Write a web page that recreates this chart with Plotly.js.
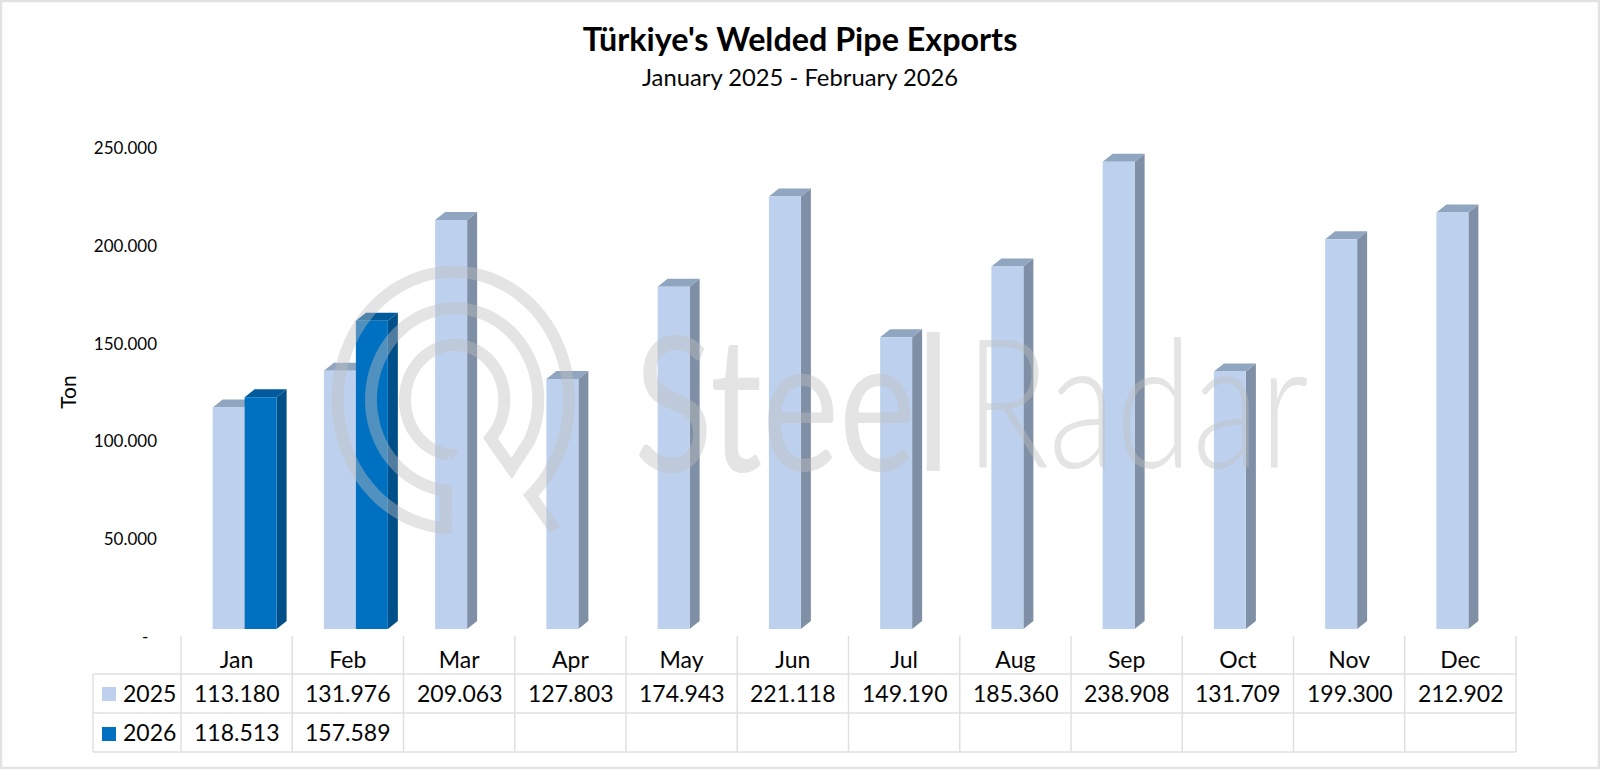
<!DOCTYPE html>
<html>
<head>
<meta charset="utf-8">
<script src="https://cdn.plot.ly/plotly-3.0.1.min.js"></script>
<style>html,body{margin:0;padding:0;background:#fff}</style>
</head>
<body>
<div id="chart" style="width:1600px;height:769px"></div>
<script>
const months = ["Jan","Feb","Mar","Apr","May","Jun","Jul","Aug","Sep","Oct","Nov","Dec"];
const values2025 = [113180,131976,209063,127803,174943,221118,149190,185360,238908,131709,199300,212902];
const values2026 = [118513,157589,null,null,null,null,null,null,null,null,null,null];
const yTickValues = [0,50000,100000,150000,200000,250000];
const yTickLabels = ["-\u00a0\u00a0","50.000","100.000","150.000","200.000","250.000"];
const seriesNames = ["2025","2026"];

const W = 1600, H = 769;
const px = x => x / W;
const py = y => 1 - y / H;
const FONT = "Lato, Carlito, Calibri, sans-serif";
const GRID = "#e0e0e0";
const INK = "#050505";
const fmt = v => v === null ? "" : String(v).replace(/\B(?=(\d{3})+$)/g, ".");

const pxPerUnit = 1.956 / 1000;
const barW = 0.2875, depthX = 10, depthY = 8, barPx = 32;
const styles = [
  {front:"#BDD1EE", side:"#7F8FA6", top:"#8FA5C0", off:-barW},
  {front:"#0070C0", side:"#004F88", top:"#005A9C", off:0}
];

const shapes = [];
[values2025, values2026].forEach((vals, s) => {
  const st = styles[s];
  vals.forEach((v, i) => {
    if (v === null) return;
    const left = i + st.off, right = left + barW;
    const common = {type:"path", xref:"x", yref:"y", xsizemode:"pixel", ysizemode:"pixel",
                    layer:"below", line:{width:0}};
    const h = v * pxPerUnit;
    shapes.push(Object.assign({}, common, {xanchor:right, yanchor:v, fillcolor:st.side,
      path:`M 0 0 L ${depthX} ${depthY} L ${depthX} ${depthY - h} L 0 ${-h} Z`}));
    shapes.push(Object.assign({}, common, {xanchor:left, yanchor:v, fillcolor:st.top,
      path:`M 0 0 L ${depthX} ${depthY} L ${barPx+depthX} ${depthY} L ${barPx} 0 Z`}));
  });
});

// Data table rules
const colX = i => 181 + i * 111.25;
const hline = (x0, x1, y) => ({type:"line", xref:"paper", yref:"paper", x0:px(x0), x1:px(x1), y0:py(y), y1:py(y), line:{color:GRID, width:1.5}, layer:"below"});
const vline = (x, y0, y1) => ({type:"line", xref:"paper", yref:"paper", x0:px(x), x1:px(x), y0:py(y0), y1:py(y1), line:{color:GRID, width:1.5}, layer:"below"});
[674,713,752].forEach(y => shapes.push(hline(93,1516,y)));
for (let i = 0; i <= 12; i++) shapes.push(vline(colX(i),636,752));
shapes.push(vline(93,674,752));
// Legend keys
[[687,701,styles[0].front],[727,741,styles[1].front]].forEach(k => shapes.push({type:"rect", xref:"paper", yref:"paper",
  x0:px(102), x1:px(116), y0:py(k[0]), y1:py(k[1]), fillcolor:k[2], line:{width:0}, layer:"below"}));
// Picture border
shapes.push({type:"rect", xref:"paper", yref:"paper", x0:px(1), x1:px(1599), y0:py(1), y1:py(768), line:{color:"#e2e2e2", width:2.5}, layer:"below"});

// Watermark logo: one continuous stroke through three stretched rings
const WM = "rgba(190,190,190,0.42)";
const zx = z => 325 + z/3, zy = z => 255 + z/3;
const pt = (x,y) => `${px(zx(x)).toFixed(5)} ${py(zy(y)).toFixed(5)}`;
function arc(cx,cy,rx,ry,a0,a1){
  const out = [], n = Math.ceil(Math.abs(a1-a0)/3);
  for (let k = 0; k <= n; k++){
    const t = (a0 + (a1-a0)*k/n)*Math.PI/180;
    out.push("L " + pt(cx+rx*Math.cos(t), cy+ry*Math.sin(t)));
  }
  return out.join(" ");
}
const logoPath = [
  `M ${pt(370,600)}`, arc(389,435,149,165,97,404), `L ${pt(560,640)}`,
  arc(389,434,251,274,387,96), `L ${pt(362,819)}`,
  arc(385,435,347,385,94,408), `L ${pt(690,825)}`
].join(" ");
shapes.push({type:"path", xref:"paper", yref:"paper", path:logoPath, line:{color:WM, width:12}, layer:"above"});

const annotations = [];
const cell = (text, i, y) => annotations.push({text, x:i, xref:"x", xshift:-8, y:py(y), yref:"paper",
  xanchor:"center", yanchor:"middle", showarrow:false, font:{family:FONT, size:23, color:INK}});
values2025.forEach((v,i) => cell(fmt(v), i, 693));
values2026.forEach((v,i) => { if (v !== null) cell(fmt(v), i, 732); });
seriesNames.forEach((n,s) => annotations.push({text:n, x:px(121), xref:"paper", y:py(693+39*s), yref:"paper",
  xanchor:"left", yanchor:"middle", showarrow:false, font:{family:FONT, size:23, color:INK}}));
// Watermark words
annotations.push({text:"Steel", x:px(632), xref:"paper", y:py(398), yref:"paper", xanchor:"left", yanchor:"middle",
  showarrow:false, font:{family:FONT, size:146, color:WM, weight:400}});
annotations.push({text:"Radar", x:px(963), xref:"paper", y:py(398), yref:"paper", xanchor:"left", yanchor:"middle",
  showarrow:false, font:{family:FONT, size:139, color:WM, weight:300}});
annotations.push({text:"January 2025 - February 2026", x:0.5, xref:"paper", y:py(77), yref:"paper", xanchor:"center", yanchor:"middle",
  showarrow:false, font:{family:FONT, size:23.8, color:INK}});

const traces = [values2025, values2026].map((vals,s) => ({
  type:"bar", name:seriesNames[s], x:months, y:vals,
  marker:{color:styles[s].front, line:{width:0}}, hoverinfo:"x+y"
}));

const layout = {
  width:W, height:H, margin:{l:0,r:0,t:0,b:0}, autosize:false,
  paper_bgcolor:"#fff", plot_bgcolor:"rgba(0,0,0,0)", showlegend:false,
  barmode:"group", bargap:0.425, bargroupgap:0,
  font:{family:FONT, color:INK},
  title:{text:"<b>Türkiye's Welded Pipe Exports</b>", x:0.5, xanchor:"center", xref:"paper", y:1-40/H, yanchor:"middle",
         font:{family:FONT, size:32.3, color:"#000"}},
  xaxis:{type:"category", categoryorder:"array", categoryarray:months, domain:[px(189),px(1524)], range:[-0.5,11.5],
         tickmode:"array", tickvals:months, ticktext:months, ticks:"", showline:false, showgrid:false, zeroline:false,
         ticklabelshift:-8, ticklabelstandoff:0, tickfont:{family:FONT, size:23, color:INK}, automargin:false, fixedrange:true},
  yaxis:{domain:[py(644),py(140)], range:[-15/pxPerUnit,250000], tickmode:"array", tickvals:yTickValues, ticktext:yTickLabels,
         ticks:"", showline:false, showgrid:false, zeroline:false, ticklabelshift:8, ticklabelstandoff:31,
         tickfont:{family:FONT, size:17, color:INK}, automargin:false, fixedrange:true,
         title:{text:"Ton", standoff:11, font:{family:FONT, size:21, color:"#000"}}},
  shapes, annotations
};

Plotly.newPlot("chart", traces, layout, {displayModeBar:false, responsive:false}).then(gd => {
  // the watermark in the reference is stretched vertically
  gd.querySelectorAll(".annotation-text").forEach(t => {
    const txt = t.textContent;
    if (txt !== "Steel" && txt !== "Radar") return;
    const b = t.getBBox(), cy = b.y + b.height/2;
    t.setAttribute("transform", `translate(0 ${cy}) scale(1 1.29) translate(0 ${-cy})`);
  });
});
</script>
</body>
</html>
